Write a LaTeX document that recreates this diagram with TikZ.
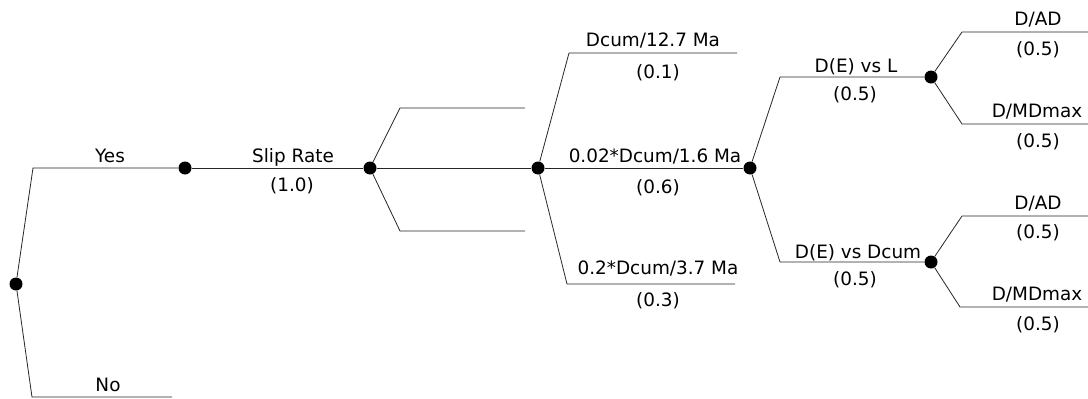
\documentclass[tikz,border=0pt]{standalone}
\usepackage{fontspec}
\setmainfont{DejaVu Sans}
\begin{document}
\begin{tikzpicture}[x=1pt,y=-1pt,
  br/.style={draw=black!85,line width=0.8pt},
  dot/.style={circle,fill=black,inner sep=0pt,minimum size=13pt},
  lab/.style={anchor=base,inner sep=0pt,font=\fontsize{18.4}{20}\selectfont}]
\useasboundingbox (0,0) rectangle (1088,399);
% decision points
\node[dot] (root) at (16,284) {};
\node[dot] (yes)  at (185,168) {};
\node[dot] (slip) at (370,168) {};
\node[dot] (rate) at (538,168) {};
\node[dot] (rm)   at (750,168) {};
\node[dot] (L)    at (931,77) {};
\node[dot] (Dc)   at (931,262) {};
% corners and free ends
\coordinate (yesC) at (33,168);
\coordinate (noC) at (32,397);  \coordinate (noE) at (172,397);
\coordinate (s1) at (400,108);  \coordinate (s1e) at (525,108);
\coordinate (s3) at (400,231);  \coordinate (s3e) at (525,231);
\coordinate (r1) at (569,53);   \coordinate (r1e) at (737,53);
\coordinate (r3) at (567,284);  \coordinate (r3e) at (735,284);
\coordinate (m1) at (780,77);
\coordinate (m2) at (780,262);
\coordinate (a1) at (962,32);   \coordinate (a1e) at (1088,32);
\coordinate (a2) at (962,124);  \coordinate (a2e) at (1088,124);
\coordinate (b1) at (962,216);  \coordinate (b1e) at (1088,216);
\coordinate (b2) at (960,307);  \coordinate (b2e) at (1088,307);
% connectors
\draw[br] (root) -- (yesC) -- (yes);
\draw[br] (root) -- (noC) -- (noE);
\draw[br] (yes) -- (slip);
\draw[br] (slip) -- (s1) -- (s1e);
\draw[br] (slip) -- (s3) -- (s3e);
\draw[br] (slip) -- (rate);
\draw[br] (rate) -- (r1) -- (r1e);
\draw[br] (rate) -- (rm);
\draw[br] (rate) -- (r3) -- (r3e);
\draw[br] (rm) -- (m1) -- (L);
\draw[br] (rm) -- (m2) -- (Dc);
\draw[br] (L) -- (a1) -- (a1e);
\draw[br] (L) -- (a2) -- (a2e);
\draw[br] (Dc) -- (b1) -- (b1e);
\draw[br] (Dc) -- (b2) -- (b2e);
% labels
\node[lab] (tYes) at (110,162) {Yes};
\node[lab] (tNo)  at (108,391) {No};
\node[lab] (tSR)  at (293,162) {Slip Rate};
\node[lab] (pSR)  at (292,191) {(1.0)};
\node[lab] (tR1)  at (653,46)  {Dcum/12.7 Ma};
\node[lab] (pR1)  at (658,78)  {(0.1)};
\node[lab] (tR2)  at (655,162) {0.02*Dcum/1.6 Ma};
\node[lab] (pR2)  at (658,193) {(0.6)};
\node[lab] (tR3)  at (658,274) {0.2*Dcum/3.7 Ma};
\node[lab] (pR3)  at (658,306) {(0.3)};
\node[lab] (tL)   at (856,72)  {D(E) vs L};
\node[lab] (pL)   at (855,100) {(0.5)};
\node[lab] (tDc)  at (858,258) {D(E) vs Dcum};
\node[lab] (pDc)  at (855,285) {(0.5)};
\node[lab] (tA1)  at (1038,25)  {D/AD};
\node[lab] (pA1)  at (1038,55)  {(0.5)};
\node[lab] (tA2)  at (1037,117) {D/MDmax};
\node[lab] (pA2)  at (1038,147) {(0.5)};
\node[lab] (tB1)  at (1038,209) {D/AD};
\node[lab] (pB1)  at (1038,238) {(0.5)};
\node[lab] (tB2)  at (1037,300) {D/MDmax};
\node[lab] (pB2)  at (1038,330) {(0.5)};
\end{tikzpicture}
\end{document}
